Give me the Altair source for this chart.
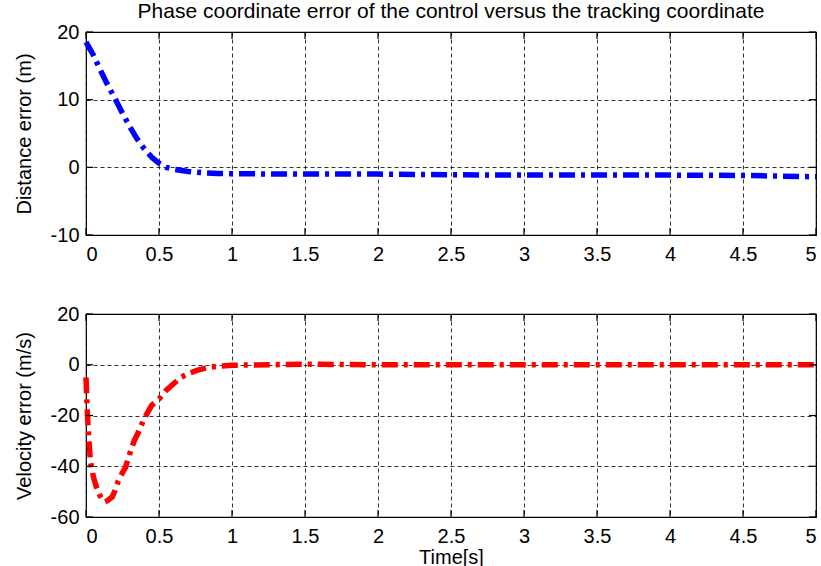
import altair as alt
import pandas as pd

# ---- data ----
t_dist = [0, 0.05, 0.1, 0.15, 0.2, 0.25, 0.3, 0.35, 0.4, 0.45, 0.5, 0.55, 0.6, 0.7, 0.8,
          0.9, 1.0, 1.5, 2.0, 2.5, 3.0, 3.5, 4.0, 4.5, 5.0]
dist_err = [18.5, 16.6, 14.3, 12.1, 10.1, 8.0, 6.0, 4.2, 2.7, 1.5, 0.6, 0.0, -0.3, -0.6, -0.8,
            -0.9, -0.95, -1.0, -1.0, -1.1, -1.15, -1.15, -1.15, -1.2, -1.4]

t_vel = [0, 0.01, 0.02, 0.03, 0.05, 0.07, 0.09, 0.11, 0.13, 0.15, 0.18, 0.2, 0.22, 0.25, 0.27,
         0.3, 0.33, 0.36, 0.4, 0.45, 0.5, 0.55, 0.6, 0.65, 0.7, 0.77, 0.85, 0.92, 1.0, 1.5,
         2.0, 2.5, 3.0, 3.5, 4.0, 4.5, 5.0]
vel_err = [-5, -20, -30, -38, -44, -48, -51, -53, -54, -53.5, -52, -49.5, -46, -42.5, -40.5,
           -35, -30, -26.5, -21, -16, -13.5, -10, -7.5, -5, -3.5, -2, -1, -0.5, -0.2, 0.2,
           0, 0, 0, 0, 0, 0, 0]

x_ticks = [0, 0.5, 1, 1.5, 2, 2.5, 3, 3.5, 4, 4.5, 5]
y_ticks_top = [-10, 0, 10, 20]
y_ticks_bot = [-60, -40, -20, 0, 20]

title_text = "Phase coordinate error of the control versus the tracking coordinate"

W, H = 730, 203
TICK = 7
FONT = "Liberation Sans"
FS_LABEL = 20
FS_TITLE = 20
FS_MAIN = 21


def panel(tv, yv, color, ydom, yticks, ytitle, xtitle, top_title=None):
    df = pd.DataFrame({"t": tv, "y": yv})
    xsc = alt.Scale(domain=[0, 5], nice=False)
    ysc = alt.Scale(domain=ydom, nice=False)
    xaxis = alt.Axis(values=x_ticks, labelExpr="'' + datum.value", grid=True,
                     gridDash=[4, 3], gridColor="#000", gridWidth=0.8, gridOpacity=1,
                     ticks=False, domain=False, labelPadding=9,
                     title=xtitle if xtitle else None, titlePadding=1)
    yaxis = alt.Axis(values=yticks, labelExpr="'' + datum.value", grid=True,
                     gridDash=[4, 3], gridColor="#000", gridWidth=0.8, gridOpacity=1,
                     ticks=False, domain=False, labelPadding=7, title=ytitle,
                     titlePadding=16)
    line = alt.Chart(df).mark_line(color=color, strokeWidth=5.5,
                                   strokeDash=[16, 6, 4, 6]).encode(
        x=alt.X("t:Q", scale=xsc, axis=xaxis),
        y=alt.Y("y:Q", scale=ysc, axis=yaxis),
    )
    xt = pd.DataFrame({"t": x_ticks})
    yt = pd.DataFrame({"y": yticks})
    rule_kw = dict(color="#000", strokeWidth=1.2)
    bt = alt.Chart(xt).mark_rule(**rule_kw).encode(
        x=alt.X("t:Q", scale=xsc), y=alt.value(H), y2=alt.value(H - TICK))
    tt = alt.Chart(xt).mark_rule(**rule_kw).encode(
        x=alt.X("t:Q", scale=xsc), y=alt.value(0), y2=alt.value(TICK))
    lt = alt.Chart(yt).mark_rule(**rule_kw).encode(
        y=alt.Y("y:Q", scale=ysc), x=alt.value(0), x2=alt.value(TICK))
    rt = alt.Chart(yt).mark_rule(**rule_kw).encode(
        y=alt.Y("y:Q", scale=ysc), x=alt.value(W), x2=alt.value(W - TICK))
    ch = alt.layer(line, bt, tt, lt, rt).properties(width=W, height=H)
    if top_title:
        ch = ch.properties(title=alt.TitleParams(top_title, fontSize=FS_MAIN, font=FONT,
                                                 fontWeight="normal", offset=0,
                                                 anchor="middle", color="#000"))
    return ch


top = panel(t_dist, dist_err, "#0000FF", [-10, 20], y_ticks_top,
            "Distance error (m)", None, title_text)
bot = panel(t_vel, vel_err, "#FF0000", [-60, 20], y_ticks_bot,
            "Velocity error (m/s)", "Time[s]")

chart = alt.vconcat(top, bot, spacing=38).properties(
    padding={"left": 13, "top": 0, "right": -7, "bottom": 0},
    background="white",
).configure_view(stroke="#000", strokeWidth=1.2).configure_axis(
    labelFont=FONT, labelFontSize=FS_LABEL, labelColor="#000",
    titleFont=FONT, titleFontSize=FS_TITLE, titleColor="#000", titleFontWeight="normal",
)

chart.save("out.html", embed_options={"renderer": "svg", "actions": False})
